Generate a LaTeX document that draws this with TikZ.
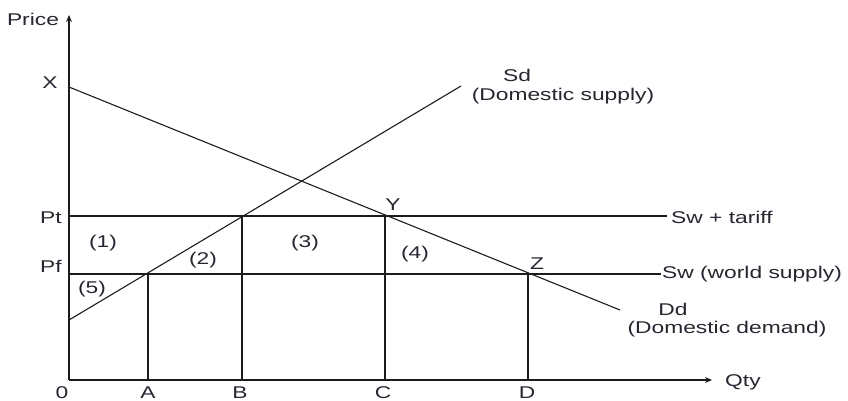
\documentclass[tikz,border=0pt]{standalone}
\usepackage{fontspec}
\setmainfont{Liberation Sans}
\usepackage{graphicx}
\usetikzlibrary{arrows.meta}
\newcommand{\stx}[1]{\scalebox{1.34}[1]{#1}}
\definecolor{ink}{HTML}{1C1C1C}
\definecolor{txt}{HTML}{262630}
\begin{document}
\begin{tikzpicture}[x=1pt,y=-1pt,
  lbl/.style={inner sep=0pt, text=txt, font=\fontsize{17}{19}\selectfont},
  qlbl/.style={lbl, anchor=base},
  ln/.style={draw=ink, line width=1.1pt},
  axis/.style={draw=ink, line width=1.5pt, -{Stealth[length=7pt,width=6pt]}}]
\useasboundingbox (0,0) rectangle (848,401);
% key points
\coordinate (O) at (69,380);
\coordinate (Ytop) at (69,15);
\coordinate (Xend) at (712,380);
\coordinate (Xp) at (69,87);
\coordinate (Dend) at (620,310);
\coordinate (Sst) at (69,320);
\coordinate (Sen) at (461,86);
\coordinate (PtL) at (69,216);
\coordinate (PtR) at (667,216);
\coordinate (PfL) at (69,274);
\coordinate (PfR) at (661,274);
\coordinate (pA) at (148,274);
\coordinate (pB) at (242,216);
\coordinate (pY) at (385,216);
\coordinate (pZ) at (528,274);
% lines
\draw[ln] (PtL) -- (PtR);
\draw[ln] (PfL) -- (PfR);
\draw[ln] (Xp) -- (Dend);
\draw[ln] (Sst) -- (Sen);
\draw[ln] (pA) -- (pA |- O);
\draw[ln] (pB) -- (pB |- O);
\draw[ln, line width=2pt] (pY) -- (pY |- O);
\draw[ln] (pZ) -- (pZ |- O);
\draw[axis] (O) -- (Ytop);
\draw[axis] (O) -- (Xend);
% labels
\node[lbl] (tPrice) at (33,19) {\stx{Price}};
\node[lbl] (tX) at (50,83) {\stx{X}};
\node[lbl] (tPt) at (51,218) {\stx{Pt}};
\node[lbl] (tPf) at (51,266) {\stx{Pf}};
\node[lbl] (t1) at (103,243) {\stx{(1)}};
\node[lbl] (t2) at (203,260) {\stx{(2)}};
\node[lbl] (t5) at (92,289) {\stx{(5)}};
\node[lbl] (t3) at (305,243) {\stx{(3)}};
\node[lbl] (t4) at (415,254) {\stx{(4)}};
\node[lbl] (tY) at (393,205) {\stx{Y}};
\node[lbl] (tZ) at (537,264) {\stx{Z}};
\node[lbl] (tSd) at (517,75) {\stx{Sd}};
\node[lbl] (tDs) at (563,96) {\stx{(Domestic supply)}};
\node[lbl, anchor=west] (tSwt) at (671,217) {\stx{Sw + tariff}};
\node[lbl, anchor=west] (tSw) at (662,274) {\stx{Sw (world supply)}};
\node[lbl] (tDd) at (673,309) {\stx{Dd}};
\node[lbl] (tDdm) at (727,329) {\stx{(Domestic demand)}};
\node[lbl, anchor=west] (tQty) at (725,382) {\stx{Qty}};
\node[qlbl] (t0) at (62,398) {\stx{0}};
\node[qlbl] (tA) at (148,398) {\stx{A}};
\node[qlbl] (tB) at (240,398) {\stx{B}};
\node[qlbl] (tC) at (383,398) {\stx{C}};
\node[qlbl] (tD) at (527,398) {\stx{D}};
\end{tikzpicture}
\end{document}
